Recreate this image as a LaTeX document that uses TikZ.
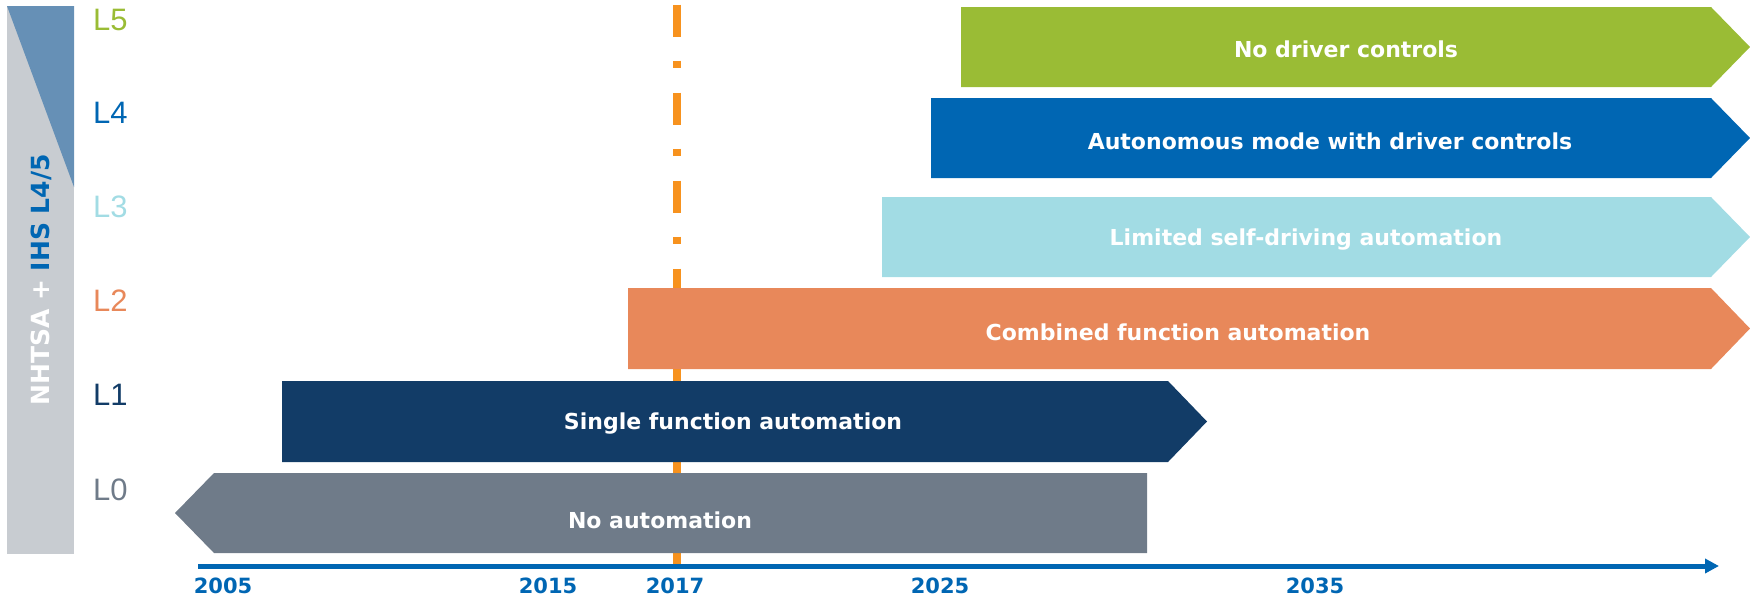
\documentclass[tikz,border=0pt]{standalone}
\usepackage{fontspec}
\setmainfont{Liberation Sans}
\newfontfamily\vfont{DejaVu Sans}
\usetikzlibrary{arrows.meta}
\definecolor{cgreen}{HTML}{9ABC35}
\definecolor{cblue}{HTML}{0066B3}
\definecolor{clight}{HTML}{A2DCE4}
\definecolor{corange}{HTML}{E8885A}
\definecolor{cnavy}{HTML}{123C67}
\definecolor{cgray}{HTML}{6F7B89}
\definecolor{sidegray}{HTML}{C8CCD1}
\definecolor{sideblue}{HTML}{6690B6}
\definecolor{dashorange}{HTML}{F7921E}
\begin{document}
\begin{tikzpicture}[x=1pt,y=-1pt,
  lvl/.style={anchor=west,inner sep=0pt,font=\fontsize{31}{33}\selectfont},
  bartext/.style={text=white,inner sep=0pt,font=\vfont\bfseries\fontsize{22}{26}\selectfont},
  year/.style={text=cblue,inner sep=0pt,font=\vfont\bfseries\fontsize{21}{25}\selectfont}]
\useasboundingbox (0,0) rectangle (1750,600);
% side bar
\fill[sidegray] (7,6) rectangle (74,554);
\fill[sideblue] (7,6) -- (74,6) -- (74,187) -- cycle;
\node[rotate=90,inner sep=0pt,font=\vfont\bfseries\fontsize{25}{29}\selectfont] (side) at (41,280)
  {\textcolor{white}{NHTSA +} \textcolor{cblue}{IHS L4/5}};
% level labels
\node[lvl,text=cgreen] (l5) at (93,20) {L5};
\node[lvl,text=cblue] (l4) at (93,113) {L4};
\node[lvl,text=clight] (l3) at (93,207) {L3};
\node[lvl,text=corange] (l2) at (93,301) {L2};
\node[lvl,text=cnavy] (l1) at (93,395) {L1};
\node[lvl,text=cgray] (l0) at (93,490) {L0};
% 2017 marker
\coordinate (mtop) at (677,4.6);
\coordinate (mmid) at (677,300);
\coordinate (mmid2) at (677,271);
\coordinate (mbot) at (677,566);
\draw[dashorange,line width=8pt,dash pattern=on 32pt off 24pt on 7pt off 25pt] (mtop) -- (mmid);
\draw[dashorange,line width=8pt] (mmid2) -- (mbot);
% bars
\fill[cgreen] (961,7) -- (1711,7) -- (1750,47) -- (1711,87) -- (961,87) -- cycle;
\fill[cblue] (931,98) -- (1711,98) -- (1750,138) -- (1711,178) -- (931,178) -- cycle;
\fill[clight] (882,197) -- (1711,197) -- (1750,237) -- (1711,277) -- (882,277) -- cycle;
\fill[corange] (628,288) -- (1711,288) -- (1750,328.5) -- (1711,369) -- (628,369) -- cycle;
\fill[cnavy] (282,381) -- (1168,381) -- (1207,421.5) -- (1168,462) -- (282,462) -- cycle;
\fill[cgray] (214,473) -- (1147,473) -- (1147,553) -- (214,553) -- (175,513) -- cycle;
\node[bartext] (t5) at (1346,49) {No driver controls};
\node[bartext] (t4) at (1330,141) {Autonomous mode with driver controls};
\node[bartext] (t3) at (1306,240) {Limited self-driving automation};
\node[bartext] (t2) at (1178,332) {Combined function automation};
\node[bartext] (t1) at (733,424) {Single function automation};
\node[bartext] (t0) at (660,520) {No automation};
% axis
\coordinate (a0) at (198,566);
\coordinate (a1) at (1719,566);
\draw[cblue,line width=5pt,-{Triangle[length=14pt,width=14pt]}] (a0) -- (a1);
\node[year] (y2005) at (223,586) {2005};
\node[year] (y2015) at (548,586) {2015};
\node[year] (y2017) at (675,586) {2017};
\node[year] (y2025) at (940,586) {2025};
\node[year] (y2035) at (1315,586) {2035};
\end{tikzpicture}
\end{document}
